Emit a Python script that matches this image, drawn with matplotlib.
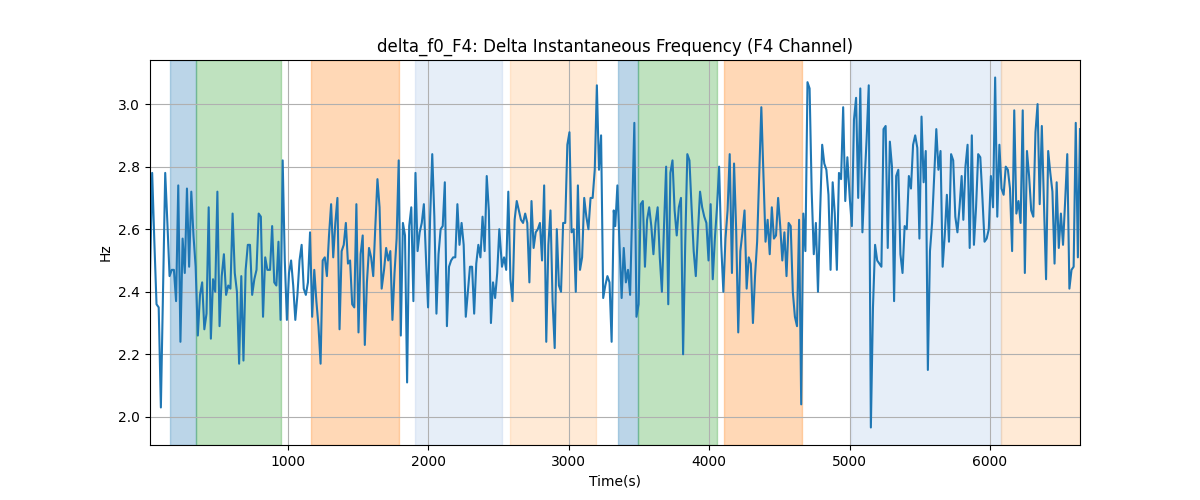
import numpy as np
import matplotlib
matplotlib.use("Agg")
import matplotlib.pyplot as plt

# time span of the recording (s)
t_start = 17
t_end = 6641

# delta f0, F4 channel (Hz), read left to right in eight stretches
hz_part1 = [2.45, 2.78, 2.56, 2.36, 2.35, 2.03, 2.40, 2.78, 2.62, 2.45, 2.47, 2.47, 2.37,
            2.74, 2.24, 2.57, 2.46, 2.73, 2.48, 2.72, 2.58, 2.48, 2.26, 2.39, 2.43, 2.28,
            2.33, 2.67, 2.25, 2.44, 2.40, 2.72, 2.29, 2.45, 2.52, 2.39, 2.42, 2.41, 2.65,
            2.46, 2.40, 2.17, 2.45, 2.18, 2.47, 2.55, 2.55, 2.39, 2.44, 2.47, 2.65, 2.64,
            2.32, 2.51, 2.47]
hz_part2 = [2.47, 2.61, 2.43, 2.42, 2.56, 2.31, 2.82, 2.50, 2.31, 2.46, 2.50, 2.42, 2.31,
            2.39, 2.50, 2.55, 2.41, 2.39, 2.43, 2.59, 2.32, 2.47, 2.37, 2.29, 2.17, 2.50,
            2.51, 2.45, 2.58, 2.68, 2.51, 2.62, 2.70, 2.28, 2.53, 2.55, 2.62, 2.49, 2.50,
            2.36, 2.35, 2.68, 2.27, 2.52, 2.58, 2.23, 2.43, 2.54, 2.51, 2.45, 2.61, 2.76,
            2.67, 2.41]
hz_part3 = [2.47, 2.54, 2.50, 2.53, 2.31, 2.46, 2.57, 2.82, 2.26, 2.62, 2.58, 2.11, 2.61,
            2.67, 2.37, 2.78, 2.53, 2.59, 2.62, 2.68, 2.51, 2.35, 2.64, 2.84, 2.64, 2.33,
            2.52, 2.60, 2.61, 2.75, 2.29, 2.48, 2.50, 2.51, 2.51, 2.68, 2.55, 2.62, 2.55,
            2.32, 2.40, 2.48, 2.48, 2.33, 2.49, 2.55, 2.51, 2.64, 2.53, 2.77, 2.66, 2.30,
            2.43, 2.38, 2.46, 2.60]
hz_part4 = [2.48, 2.51, 2.47, 2.72, 2.44, 2.37, 2.63, 2.69, 2.66, 2.63, 2.62, 2.65, 2.62,
            2.43, 2.69, 2.54, 2.59, 2.60, 2.62, 2.50, 2.74, 2.24, 2.55, 2.66, 2.37, 2.22,
            2.60, 2.42, 2.40, 2.62, 2.62, 2.87, 2.91, 2.59, 2.60, 2.40, 2.74, 2.47, 2.51,
            2.70, 2.64, 2.60, 2.70, 2.70, 2.79, 3.06, 2.79, 2.90, 2.38, 2.42, 2.45, 2.43,
            2.24, 2.66]
hz_part5 = [2.61, 2.74, 2.55, 2.38, 2.54, 2.43, 2.47, 2.39, 2.66, 2.94, 2.32, 2.36, 2.68,
            2.69, 2.48, 2.63, 2.67, 2.61, 2.52, 2.62, 2.67, 2.51, 2.40, 2.61, 2.80, 2.36,
            2.78, 2.82, 2.66, 2.58, 2.67, 2.70, 2.20, 2.55, 2.84, 2.82, 2.67, 2.53, 2.45,
            2.59, 2.72, 2.67, 2.64, 2.62, 2.50, 2.68, 2.44, 2.57, 2.67, 2.80, 2.55, 2.40,
            2.57, 2.66, 2.84]
hz_part6 = [2.46, 2.81, 2.60, 2.27, 2.53, 2.59, 2.66, 2.41, 2.51, 2.49, 2.30, 2.45, 2.56,
            2.78, 2.99, 2.78, 2.56, 2.63, 2.52, 2.67, 2.57, 2.58, 2.70, 2.61, 2.50, 2.59,
            2.45, 2.62, 2.61, 2.40, 2.32, 2.29, 2.63, 2.04, 2.65, 2.53, 3.07, 3.05, 2.72,
            2.52, 2.62, 2.40, 2.65, 2.87, 2.81, 2.79, 2.71, 2.47, 2.75, 2.65, 2.47, 2.78,
            2.76, 2.99, 2.69, 2.83]
hz_part7 = [2.70, 2.61, 2.95, 3.02, 2.70, 3.05, 2.59, 2.75, 2.89, 3.06, 1.966, 2.35, 2.55,
            2.50, 2.49, 2.48, 2.92, 2.93, 2.54, 2.88, 2.80, 2.37, 2.77, 2.79, 2.52, 2.46,
            2.61, 2.60, 2.77, 2.73, 2.87, 2.90, 2.86, 2.57, 2.96, 2.75, 2.85, 2.15, 2.53,
            2.62, 2.77, 2.92, 2.79, 2.85, 2.48, 2.58, 2.71, 2.56, 2.84, 2.82, 2.64, 2.59,
            2.67, 2.77]
hz_part8 = [2.63, 2.80, 2.87, 2.54, 2.90, 2.55, 2.67, 2.84, 2.83, 2.70, 2.56, 2.57, 2.60,
            2.77, 2.67, 3.085, 2.64, 2.87, 2.73, 2.71, 2.80, 2.79, 2.73, 2.53, 2.98, 2.65,
            2.69, 2.62, 2.98, 2.46, 2.85, 2.77, 2.66, 2.64, 2.91, 3.00, 2.68, 2.93, 2.69,
            2.44, 2.85, 2.78, 2.72, 2.49, 2.75, 2.54, 2.65, 2.55, 2.69, 2.84, 2.41, 2.47,
            2.48, 2.94, 2.51, 2.92]

# first / last time (s) of each stretch
part_t0 = [17, 872, 1684, 2524, 3331, 4162, 5001, 5810]
part_t1 = [853, 1667, 2505, 3320, 4146, 4984, 5798, 6641]

# shaded segments (start s, end s, colour)
seg_starts = [160, 343, 1164, 1905, 2581, 3350, 3495, 4105, 5012, 6078]
seg_ends = [343, 948, 1788, 2524, 3191, 3495, 4053, 4659, 6078, 6641]
seg_colors = ["tab:blue", "tab:green", "tab:orange", "#aec7e8", "#ffbb78",
              "tab:blue", "tab:green", "tab:orange", "#aec7e8", "#ffbb78"]


parts = [hz_part1, hz_part2, hz_part3, hz_part4,
         hz_part5, hz_part6, hz_part7, hz_part8]
values = np.concatenate(parts)
times = np.concatenate([np.linspace(a, b, len(p))
                        for a, b, p in zip(part_t0, part_t1, parts)])

fig, ax = plt.subplots(figsize=(12, 5), dpi=100)

for s, e, c in zip(seg_starts, seg_ends, seg_colors):
    ax.axvspan(s, e, color=c, alpha=0.3)

ax.plot(times, values, color="tab:blue")
ax.set_xlim(t_start, t_end)
ax.grid(True)

ax.set_title("delta_f0_F4: Delta Instantaneous Frequency (F4 Channel)")
ax.set_xlabel("Time(s)")
ax.set_ylabel("Hz")

plt.savefig("out.png", dpi=100)
plt.close(fig)
